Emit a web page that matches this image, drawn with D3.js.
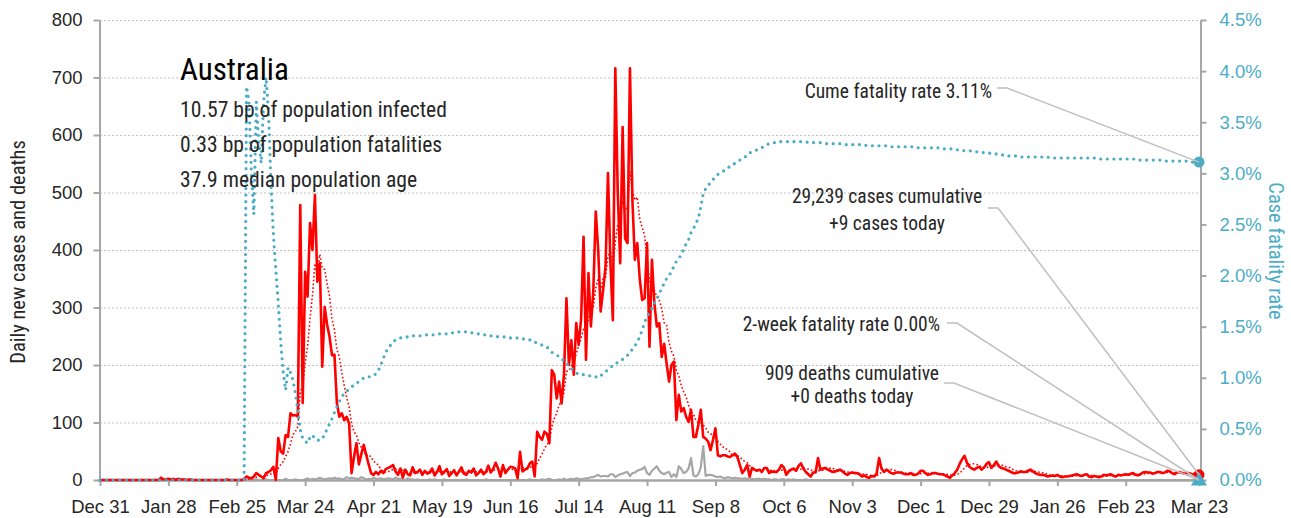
<!DOCTYPE html>
<html><head><meta charset="utf-8">
<script src="https://cdn.jsdelivr.net/npm/d3@7"></script>
<style>
html,body{margin:0;padding:0;background:#fff;}
svg{display:block;font-family:"Roboto Condensed","Liberation Sans Narrow","DejaVu Sans Condensed",sans-serif;}
</style></head><body>
<svg id="chart" width="1291" height="518"></svg>
<script>
// ---------------- data ----------------
const country = "Australia";
const infoLines = ["10.57 bp of population infected", "0.33 bp of population fatalities", "37.9 median population age"];
const xTickLabels = ["Dec 31","Jan 28","Feb 25","Mar 24","Apr 21","May 19","Jun 16","Jul 14","Aug 11","Sep 8","Oct 6","Nov 3","Dec 1","Dec 29","Jan 26","Feb 23","Mar 23"];
const leftTicks = [0,100,200,300,400,500,600,700,800];
const rightTicks = [0,0.5,1.0,1.5,2.0,2.5,3.0,3.5,4.0,4.5];

// daily new cases, one value per day starting Dec 31
const cases = [
0,0,0,0,0,0,0,0,0,0,
0,0,0,0,0,0,0,0,0,0,
0,0,0,0,0,4,1,1,2,1,
2,0,2,1,1,1,0,1,0,0,
0,0,0,0,0,0,0,0,0,0,
0,0,1,0,0,0,0,0,0,2,
6,4,3,6,12,9,6,3,12,14,
17,23,0,73,50,46,78,75,116,112,
113,110,478,134,362,319,447,400,496,345,
377,197,301,270,249,217,218,134,110,116,
104,110,98,12,40,64,27,45,61,44,
27,12,9,14,10,16,12,19,21,23,
26,15,9,20,4,18,10,8,22,12,
14,18,9,16,11,13,20,8,14,24,
10,14,19,7,12,17,8,15,22,11,
9,16,13,20,8,12,18,10,14,25,
13,19,30,20,6,26,12,18,23,22,
20,3,49,15,18,20,29,32,6,84,
75,70,84,80,64,191,183,142,171,133,
185,316,200,243,183,273,235,280,423,209,
360,267,330,467,400,293,330,371,534,377,
278,716,500,377,614,420,412,716,487,383,
412,350,313,316,412,232,383,307,267,273,
214,237,203,171,200,206,104,148,119,125,
110,101,122,75,75,96,122,75,72,67,
52,70,90,43,41,43,43,41,40,43,
46,40,26,12,18,26,6,21,18,16,
18,14,21,21,12,15,14,14,18,26,
22,9,15,18,20,16,24,29,20,14,
10,6,13,13,38,18,20,21,18,16,
14,15,16,18,15,11,9,12,13,12,
12,10,6,8,5,4,7,6,11,38,
20,14,18,15,12,11,13,13,13,11,
10,10,12,9,9,11,16,16,12,9,
10,12,12,11,10,10,8,6,4,8,
12,18,28,36,42,30,23,20,18,21,
23,18,22,28,31,21,26,32,24,21,
20,18,16,14,12,12,13,15,14,14,
16,18,15,12,10,9,9,8,6,7,
8,7,9,6,5,6,6,7,8,9,
10,8,7,9,10,6,5,7,6,5,
6,9,8,9,10,7,6,9,8,9,
10,9,11,12,9,8,10,13,14,13,
13,11,12,14,14,12,13,16,15,12,
10,13,14,12,11,12,12,10,9,11,
9
];

// daily deaths
const deaths = [
0,0,0,0,0,0,0,0,0,0,
0,0,0,0,0,0,0,0,0,0,
0,0,0,0,0,0,0,0,0,0,
0,0,0,0,0,0,0,0,0,0,
0,0,0,0,0,0,0,0,0,0,
0,0,0,0,0,0,0,0,0,0,
0,1,0,0,1,0,0,0,1,0,
0,0,0,0,0,0,2,0,0,0,
1,0,0,0,1,3,0,2,1,2,
4,2,1,2,3,2,4,2,3,1,
2,5,3,4,3,2,2,5,3,1,
2,1,4,2,2,3,1,2,3,2,
1,4,2,2,1,0,3,1,1,0,
1,0,0,0,0,1,0,1,0,0,
0,1,0,0,0,0,0,0,0,0,
1,0,0,0,0,0,0,0,1,0,
0,0,0,0,0,0,0,0,0,0,
0,0,0,0,0,0,1,0,0,0,
0,1,0,1,2,0,0,0,1,0,
2,0,1,2,1,3,2,1,2,3,
3,5,5,7,9,6,7,7,6,10,
10,5,8,10,11,13,14,7,12,13,
16,18,19,23,12,9,16,20,24,16,
12,10,13,14,5,10,5,24,19,12,
14,20,38,8,6,10,22,59,7,9,
9,8,6,5,6,4,3,5,4,3,
4,3,3,2,3,2,3,2,1,2,
2,1,2,1,1,0,1,1,0,1,
1,0,1,0,1,0,0,0,0,1,
0,0,0,0,0,0,0,0,0,0,
0,0,0,0,0,0,0,0,0,0,
0,0,0,0,0,0,0,0,0,0,
0,0,0,0,0,0,0,0,0,0,
0,0,0,0,0,0,0,0,0,0,
0,0,0,0,0,0,0,0,0,0,
0,0,0,0,0,0,0,0,0,0,
0,0,0,0,0,0,0,0,0,0,
0,0,0,0,0,0,0,0,0,0,
0,0,0,0,0,0,0,0,0,0,
0,0,0,0,0,0,0,0,0,0,
0,0,0,0,0,0,0,0,0,0,
0,0,0,0,0,0,0,0,0,0,
0,0,0,0,0,0,0,0,0,0,
0,0,0,0,0,0,0,0,0,0,
0,0,0,0,0,0,0,0,0,0,
0
];

// case fatality rate, percent
const cfr = [
0,0,0,0,0,0,0,0,0,0,
0,0,0,0,0,0,0,0,0,0,
0,0,0,0,0,0,0,0,0,0,
0,0,0,0,0,0,0,0,0,0,
0,0,0,0,0,0,0,0,0,0,
0,0,0,0,0,0,0,0,0,0,
3.85,3.70,3.00,2.60,3.70,3.30,3.10,3.70,3.94,3.60,
2.90,2.40,2.05,1.73,1.35,1.06,0.88,1.10,1.05,0.98,
0.85,0.68,0.49,0.41,0.38,0.36,0.42,0.44,0.40,0.39,
0.39,0.40,0.45,0.50,0.55,0.60,0.66,0.72,0.77,0.81,
0.85,0.87,0.89,0.91,0.93,0.95,0.96,0.98,1.00,1.01,
1.01,1.01,1.02,1.04,1.07,1.13,1.19,1.25,1.29,1.32,
1.35,1.37,1.38,1.39,1.39,1.40,1.40,1.41,1.41,1.41,
1.41,1.41,1.42,1.42,1.42,1.42,1.42,1.42,1.42,1.43,
1.43,1.43,1.43,1.44,1.44,1.44,1.45,1.45,1.45,1.45,
1.45,1.44,1.44,1.44,1.43,1.43,1.43,1.42,1.42,1.42,
1.41,1.41,1.41,1.40,1.40,1.40,1.40,1.39,1.39,1.39,
1.39,1.39,1.38,1.38,1.38,1.37,1.37,1.37,1.35,1.34,
1.33,1.32,1.31,1.30,1.28,1.25,1.23,1.22,1.21,1.19,
1.16,1.14,1.12,1.09,1.07,1.05,1.03,1.03,1.03,1.03,
1.02,1.02,1.01,1.01,1.00,1.02,1.04,1.06,1.08,1.10,
1.12,1.14,1.15,1.16,1.18,1.20,1.22,1.25,1.28,1.31,
1.35,1.40,1.47,1.54,1.60,1.64,1.68,1.73,1.77,1.82,
1.88,1.92,1.97,2.00,2.04,2.09,2.14,2.17,2.20,2.26,
2.31,2.35,2.42,2.46,2.51,2.56,2.67,2.80,2.85,2.88,
2.91,2.94,2.96,2.99,3.00,3.02,3.03,3.05,3.07,3.08,
3.10,3.12,3.13,3.15,3.16,3.17,3.20,3.21,3.22,3.23,
3.24,3.25,3.27,3.28,3.29,3.30,3.30,3.30,3.31,3.31,
3.31,3.31,3.31,3.31,3.31,3.31,3.31,3.31,3.31,3.31,
3.30,3.30,3.30,3.30,3.30,3.30,3.30,3.29,3.29,3.29,
3.29,3.29,3.29,3.29,3.28,3.28,3.28,3.28,3.28,3.28,
3.28,3.28,3.28,3.28,3.27,3.27,3.27,3.27,3.27,3.27,
3.27,3.27,3.27,3.27,3.26,3.26,3.26,3.26,3.26,3.26,
3.26,3.26,3.26,3.26,3.26,3.25,3.25,3.25,3.25,3.25,
3.25,3.25,3.25,3.25,3.25,3.24,3.24,3.24,3.24,3.24,
3.23,3.23,3.23,3.23,3.22,3.22,3.22,3.22,3.21,3.21,
3.21,3.21,3.20,3.20,3.20,3.19,3.19,3.19,3.18,3.18,
3.18,3.18,3.17,3.17,3.17,3.17,3.17,3.16,3.16,3.16,
3.16,3.16,3.16,3.16,3.16,3.16,3.16,3.16,3.16,3.15,
3.15,3.15,3.15,3.15,3.15,3.15,3.15,3.15,3.15,3.15,
3.15,3.15,3.15,3.15,3.15,3.15,3.15,3.15,3.15,3.14,
3.14,3.14,3.14,3.14,3.14,3.14,3.14,3.14,3.14,3.14,
3.14,3.14,3.14,3.14,3.14,3.13,3.13,3.13,3.13,3.13,
3.13,3.13,3.13,3.13,3.13,3.12,3.12,3.12,3.12,3.12,
3.12,3.12,3.12,3.12,3.12,3.12,3.12,3.11,3.11,3.11,
3.11
];

const twoWeekRate = 0.00;
const labelCume = "Cume fatality rate 3.11%";
const labelCases = ["29,239 cases cumulative", "+9 cases today"];
const labelTwoWeek = "2-week fatality rate 0.00%";
const labelDeaths = ["909 deaths cumulative", "+0 deaths today"];
const leftTitle = "Daily new cases and deaths";
const rightTitle = "Case fatality rate";

// ---------------- drawing ----------------
const CYAN = "#4bacc6", RED = "#ff0000", GRAY = "#a6a6a6", TXT = "#262626";
const svg = d3.select("#chart");
const last = cases.length - 1;
const x = d3.scaleLinear().domain([0, last]).range([100, 1199]);
const yL = d3.scaleLinear().domain([0, 800]).range([480, 20]);
const yR = d3.scaleLinear().domain([0, 4.5]).range([480, 20]);

// 7-day trailing average derived from the daily cases
const avg7 = cases.map((v, i) => d3.mean(cases.slice(Math.max(0, i - 6), i + 1)));

// gridlines
svg.append("g").selectAll("line").data(leftTicks.filter(d => d > 0)).join("line")
  .attr("x1", 100).attr("x2", 1199)
  .attr("y1", d => yL(d) + 0.5).attr("y2", d => yL(d) + 0.5)
  .attr("stroke", "#bfbfbf").attr("stroke-width", 1.2).attr("stroke-dasharray", "2,2");

// left axis
const gL = svg.append("g").attr("transform", "translate(99.5,0)")
  .call(d3.axisLeft(yL).tickValues(leftTicks).tickSize(6).tickSizeOuter(0).tickPadding(11));
gL.select(".domain").attr("stroke", GRAY).attr("stroke-width", 2);
gL.selectAll(".tick line").attr("stroke", GRAY).attr("stroke-width", 2);
gL.selectAll(".tick text").attr("font-size", 18.5).attr("fill", TXT).attr("font-family", null);

// right axis
const gR = svg.append("g").attr("transform", "translate(1200.5,0)")
  .call(d3.axisRight(yR).tickValues(rightTicks).tickSize(6).tickSizeOuter(0).tickPadding(13)
    .tickFormat(d => d.toFixed(1) + "%"));
gR.select(".domain").attr("stroke", GRAY).attr("stroke-width", 2);
gR.selectAll(".tick line").attr("stroke", GRAY).attr("stroke-width", 2);
gR.selectAll(".tick text").attr("font-size", 18.5).attr("fill", CYAN).attr("font-family", null);

// bottom axis
const xTickDays = xTickLabels.map((d, i) => i < xTickLabels.length - 1 ? i * 28 : last);
const gX = svg.append("g").attr("transform", "translate(0,480)")
  .call(d3.axisBottom(x).tickValues(xTickDays).tickFormat((d, i) => xTickLabels[i])
    .tickSize(6).tickSizeOuter(0).tickPadding(14));
gX.select(".domain").remove();
gX.selectAll(".tick line").attr("stroke", GRAY).attr("stroke-width", 2);
gX.selectAll(".tick text").attr("font-size", 18.5).attr("fill", TXT).attr("font-family", null);
svg.append("line").attr("x1", 98).attr("x2", 1202).attr("y1", 480.5).attr("y2", 480.5)
  .attr("stroke", GRAY).attr("stroke-width", 2.5);

// axis titles
svg.append("text").attr("transform", "translate(25,252) rotate(-90)")
  .attr("text-anchor", "middle").attr("font-size", 20.5).attr("fill", TXT).text(leftTitle);
svg.append("text").attr("transform", "translate(1269,251) rotate(90)")
  .attr("text-anchor", "middle").attr("font-size", 20.5).attr("fill", CYAN).text(rightTitle);

// series
const lineL = data => d3.line().x((d, i) => x(i)).y(d => yL(d))(data);
svg.append("path").attr("d", lineL(deaths)).attr("fill", "none")
  .attr("stroke", GRAY).attr("stroke-width", 2.2).attr("stroke-linejoin", "round");
svg.append("path").attr("d", lineL(cases)).attr("fill", "none")
  .attr("stroke", RED).attr("stroke-width", 2.6).attr("stroke-linejoin", "round");
svg.append("path").attr("d", lineL(avg7)).attr("fill", "none")
  .attr("stroke", RED).attr("stroke-width", 1.6).attr("stroke-dasharray", "1.6,2.2");
svg.append("path").attr("d", d3.line().x((d, i) => x(i)).y(d => yR(d))(cfr)).attr("fill", "none")
  .attr("stroke", CYAN).attr("stroke-width", 3.2).attr("stroke-linecap", "round")
  .attr("stroke-dasharray", "0,6.6");

// end markers
svg.append("circle").attr("cx", x(last)).attr("cy", yL(cases[last])).attr("r", 5.5).attr("fill", RED);
svg.append("path").attr("d", d3.symbol(d3.symbolTriangle, 110)())
  .attr("transform", `translate(${x(last)},${yR(twoWeekRate) + 1})`).attr("fill", CYAN);
svg.append("circle").attr("cx", x(last)).attr("cy", yR(cfr[last])).attr("r", 5.5).attr("fill", CYAN);

// annotations with leader lines
function leader(x0, y0, tx, ty) {
  svg.append("polyline").attr("points", `${x0},${y0} ${x0 + 10},${y0} ${tx},${ty}`)
    .attr("fill", "none").attr("stroke", "#bfbfbf").attr("stroke-width", 1.5);
}
leader(997, 88, x(last), yR(cfr[last]));
leader(988, 208, x(last), yL(cases[last]));
leader(947, 323, x(last), yR(twoWeekRate));
leader(944, 383, x(last), yL(deaths[last]));

const ann = svg.append("g").attr("font-size", 19.5).attr("fill", TXT);
ann.append("text").attr("x", 992).attr("y", 98).attr("text-anchor", "end").text(labelCume);
ann.append("text").attr("x", 887).attr("y", 203).attr("text-anchor", "middle").text(labelCases[0]);
ann.append("text").attr("x", 887).attr("y", 230).attr("text-anchor", "middle").text(labelCases[1]);
ann.append("text").attr("x", 940).attr("y", 331).attr("text-anchor", "end").text(labelTwoWeek);
ann.append("text").attr("x", 852).attr("y", 380).attr("text-anchor", "middle").text(labelDeaths[0]);
ann.append("text").attr("x", 852).attr("y", 403).attr("text-anchor", "middle").text(labelDeaths[1]);

// title block
svg.append("text").attr("x", 180).attr("y", 80).attr("font-size", 31).attr("fill", "#000").text(country);
infoLines.forEach((t, i) => {
  svg.append("text").attr("x", 180).attr("y", 117 + i * 35).attr("font-size", 21.6).attr("fill", TXT).text(t);
});
</script>
</body></html>
